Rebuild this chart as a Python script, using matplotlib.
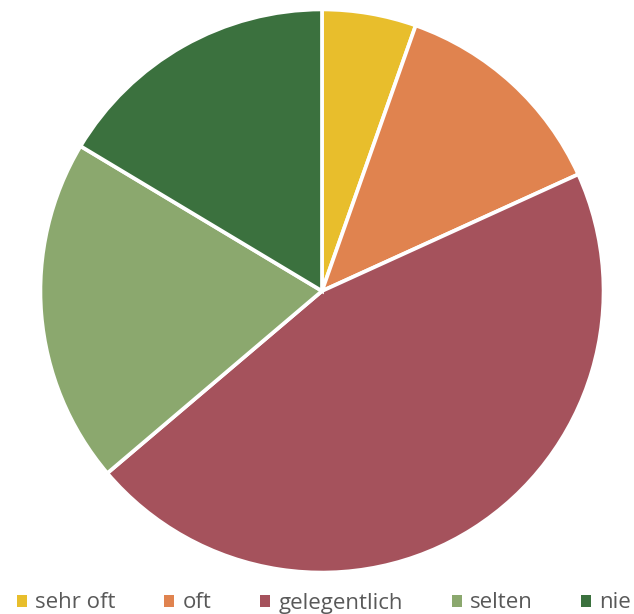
import matplotlib
matplotlib.use("Agg")
import matplotlib.pyplot as plt
from matplotlib.patches import Patch

labels = ["sehr oft", "oft", "gelegentlich", "selten", "nie"]
values = [5.4, 12.8, 45.6, 19.8, 16.4]
colors = ["#E8BE2C", "#E0834F", "#A5525C", "#8BA86E", "#3B713E"]

plt.rcParams['font.family'] = ['Open Sans', 'DejaVu Sans']
fig = plt.figure(figsize=(6.34, 6.14), dpi=100)
ax = fig.add_axes([39/634, 40/614, 566/634, 566/614])
ax.pie(values, colors=colors, startangle=90, counterclock=False,
       wedgeprops=dict(edgecolor="white", linewidth=2.7), radius=1.0)
ax.set_xlim(-1.005, 1.005)
ax.set_ylim(-1.005, 1.005)
ax.set_aspect("equal")
ax.axis("off")

fs = 16
handles = [Patch(facecolor=c, edgecolor="none") for c in colors]
leg = fig.legend(handles, labels, loc="center left", ncol=5, frameon=False,
                 bbox_to_anchor=(17/634, 11/614), fontsize=fs, handlelength=0.45,
                 handleheight=0.45, handletextpad=0.36, columnspacing=2.2,
                 borderpad=0, borderaxespad=0, labelcolor="#595959")
fig.savefig("out.png", dpi=100)
